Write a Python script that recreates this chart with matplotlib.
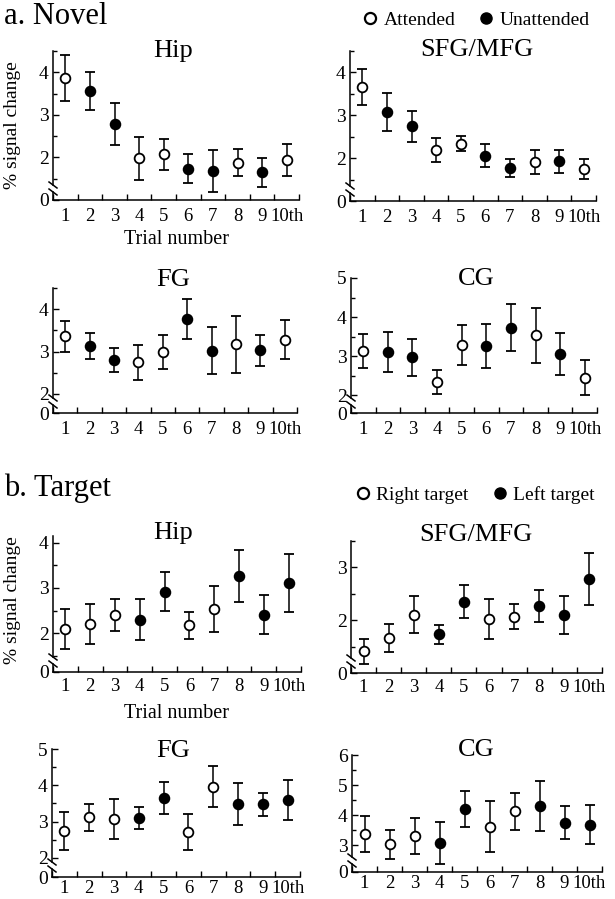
import numpy as np
import matplotlib
matplotlib.use('Agg')
import matplotlib.pyplot as plt
from matplotlib.lines import Line2D

plt.rcParams['font.family'] = ['Liberation Serif', 'DejaVu Serif']

trials = list(range(1, 11))
trial_labels = ['1', '2', '3', '4', '5', '6', '7', '8', '9', '10th']

# 1 = filled marker (Unattended / Left target), 0 = open (Attended / Right target)
novel_filled = [0, 1, 1, 0, 0, 1, 1, 0, 1, 0]
target_filled = [0, 0, 0, 1, 1, 0, 0, 1, 1, 1]

# a. Novel
novel_hip = [3.86, 3.56, 2.79, 1.98, 2.07, 1.73, 1.68, 1.88, 1.65, 1.94]
novel_hip_err = [0.54, 0.44, 0.50, 0.50, 0.37, 0.34, 0.50, 0.32, 0.34, 0.38]
novel_sfg = [3.66, 3.08, 2.74, 2.19, 2.34, 2.06, 1.78, 1.90, 1.93, 1.75]
novel_sfg_err = [0.43, 0.45, 0.36, 0.28, 0.18, 0.27, 0.21, 0.28, 0.27, 0.24]
novel_fg = [3.36, 3.13, 2.80, 2.75, 2.98, 3.76, 3.02, 3.17, 3.03, 3.28]
novel_fg_err = [0.37, 0.30, 0.28, 0.41, 0.40, 0.47, 0.55, 0.67, 0.37, 0.46]
novel_cg = [3.14, 3.12, 2.97, 2.34, 3.29, 3.27, 3.73, 3.54, 3.06, 2.45]
novel_cg_err = [0.44, 0.51, 0.48, 0.31, 0.52, 0.56, 0.60, 0.70, 0.54, 0.45]

# b. Target
target_hip = [2.09, 2.20, 2.40, 2.30, 2.92, 2.17, 2.54, 3.27, 2.41, 3.11]
target_hip_err = [0.45, 0.44, 0.36, 0.45, 0.43, 0.30, 0.51, 0.58, 0.44, 0.64]
target_sfg = [1.41, 1.66, 2.10, 1.73, 2.35, 2.03, 2.07, 2.27, 2.10, 2.78]
target_sfg_err = [0.24, 0.26, 0.35, 0.18, 0.31, 0.38, 0.24, 0.31, 0.36, 0.50]
target_fg = [2.73, 3.12, 3.08, 3.09, 3.66, 2.71, 3.96, 3.48, 3.47, 3.60]
target_fg_err = [0.52, 0.37, 0.55, 0.31, 0.44, 0.49, 0.57, 0.58, 0.33, 0.55]
target_cg = [3.37, 3.02, 3.31, 3.07, 4.19, 3.61, 4.12, 4.29, 3.75, 3.67]
target_cg_err = [0.60, 0.47, 0.60, 0.70, 0.60, 0.85, 0.63, 0.83, 0.56, 0.65]

W, H = 615, 899
fig = plt.figure(figsize=(W / 100, H / 100), dpi=100)


def px_axes(x0, x1, ytop, ybot):
    return fig.add_axes([x0 / W, 1 - ybot / H, (x1 - x0) / W, (ybot - ytop) / H])


def px_text(x, y, s, **kw):
    fig.text(x / W, 1 - y / H, s, **kw)


def panel(box, title, title_xy, means, errs, filled, ylo, yhi, major, minor, xpad=5):
    ax = px_axes(*box)
    for x, m, e, f in zip(trials, means, errs, filled):
        ax.errorbar(x, m, yerr=e, fmt='o', color='black', ecolor='black',
                    elinewidth=1.1, capsize=3.5, capthick=1.1,
                    markersize=7, markeredgewidth=1.3,
                    markerfacecolor='black' if f else 'white',
                    markeredgecolor='black', zorder=3)
    ax.set_xlim(0.5, 10.5)
    ax.set_ylim(ylo, yhi)
    ax.set_xticks(np.arange(0.5, 11, 1))
    ax.set_xticklabels([])
    ax.set_xticks(trials, minor=True)
    ax.set_xticklabels(trial_labels, minor=True)
    ax.tick_params(axis='x', which='major', direction='in', length=4, width=1)
    ax.tick_params(axis='x', which='minor', length=0, pad=xpad, labelsize=13.5)
    ax.set_yticks([ylo] + major)
    ax.set_yticklabels(['0'] + [str(v) for v in major])
    ax.set_yticks(minor, minor=True)
    ax.tick_params(axis='y', which='both', direction='in', width=1, pad=3, labelsize=14)
    ax.tick_params(axis='y', which='major', length=4)
    ax.tick_params(axis='y', which='minor', length=3)
    for s in ['top', 'right', 'left']:
        ax.spines[s].set_visible(False)
    ax.spines['bottom'].set_linewidth(1.1)
    # broken y axis
    h = box[3] - box[2]
    g1, g2 = 8 / h, 15 / h
    kw = dict(transform=ax.transAxes, color='black', lw=1.1, clip_on=False)
    ax.plot([0, 0], [g2, 1], **kw)
    ax.plot([0, 0], [0, g1], **kw)
    dx = 4 / (box[1] - box[0])
    dy = 3 / h
    ax.plot([-dx, dx], [g1 + dy, g1 - dy], **kw)
    ax.plot([-dx, dx], [g2 + dy, g2 - dy], **kw)
    px_text(title_xy[0], title_xy[1], title, ha='center', va='center', fontsize=19)
    return ax


# a. Novel
panel((53, 299, 51, 200), 'Hip', (173, 51), novel_hip, novel_hip_err, novel_filled,
      1.0, 4.5, [2, 3, 4], [1.5, 2.5, 3.5, 4.5], xpad=6)
panel((350, 596, 51, 201), 'SFG/MFG', (477, 50), novel_sfg, novel_sfg_err, novel_filled,
      1.0, 4.5, [2, 3, 4], [1.5, 2.5, 3.5, 4.5], xpad=6)
panel((53, 297, 288, 413), 'FG', (173, 280), novel_fg, novel_fg_err, novel_filled,
      1.55, 4.5, [2, 3, 4], [2.5, 3.5, 4.5], xpad=5.5)
panel((351, 597, 278, 413), 'CG', (476, 279), novel_cg, novel_cg_err, novel_filled,
      1.55, 5.0, [2, 3, 4, 5], [2.5, 3.5, 4.5], xpad=5.5)

# b. Target
panel((53, 301, 536, 672), 'Hip', (173, 533), target_hip, target_hip_err, target_filled,
      1.14, 4.15, [2, 3, 4], [1.5, 2.5, 3.5], xpad=4)
panel((351, 602, 541, 673), 'SFG/MFG', (476, 535), target_sfg, target_sfg_err, target_filled,
      1.0, 3.5, [2, 3], [1.5, 2.5, 3.5], xpad=4)
panel((52, 300, 749, 877), 'FG', (173, 751), target_fg, target_fg_err, target_filled,
      1.47, 5.0, [2, 3, 4, 5], [2.5, 3.5, 4.5], xpad=2.5)
panel((352, 602, 755, 872), 'CG', (476, 750), target_cg, target_cg_err, target_filled,
      2.1, 6.0, [3, 4, 5, 6], [3.5, 4.5, 5.5], xpad=2.5)

# section headings and axis labels
px_text(4, 16, 'a. Novel', ha='left', va='center', fontsize=22)
px_text(4, 488, 'b. Target', ha='left', va='center', fontsize=22)
px_text(13, 125, '% signal change', ha='center', va='center', rotation=90, fontsize=14)
px_text(13, 600, '% signal change', ha='center', va='center', rotation=90, fontsize=14)
px_text(176, 239, 'Trial number', ha='center', va='center', fontsize=14.5)
px_text(176, 713, 'Trial number', ha='center', va='center', fontsize=14.5)


def legend(labels, x, y):
    handles = [
        Line2D([], [], ls='none', marker='o', markersize=8, markeredgewidth=1.6,
               markerfacecolor='white', markeredgecolor='black'),
        Line2D([], [], ls='none', marker='o', markersize=8,
               markerfacecolor='black', markeredgecolor='black'),
    ]
    fig.legend(handles, labels, loc='center', bbox_to_anchor=(x / W, 1 - y / H),
               ncol=2, frameon=False, fontsize=14, handlelength=0.8,
               handletextpad=0.3, columnspacing=1.2, borderaxespad=0)


legend(['Attended', 'Unattended'], 476, 20)
legend(['Right target', 'Left target'], 475, 495)

fig.savefig('out.png', dpi=100)
